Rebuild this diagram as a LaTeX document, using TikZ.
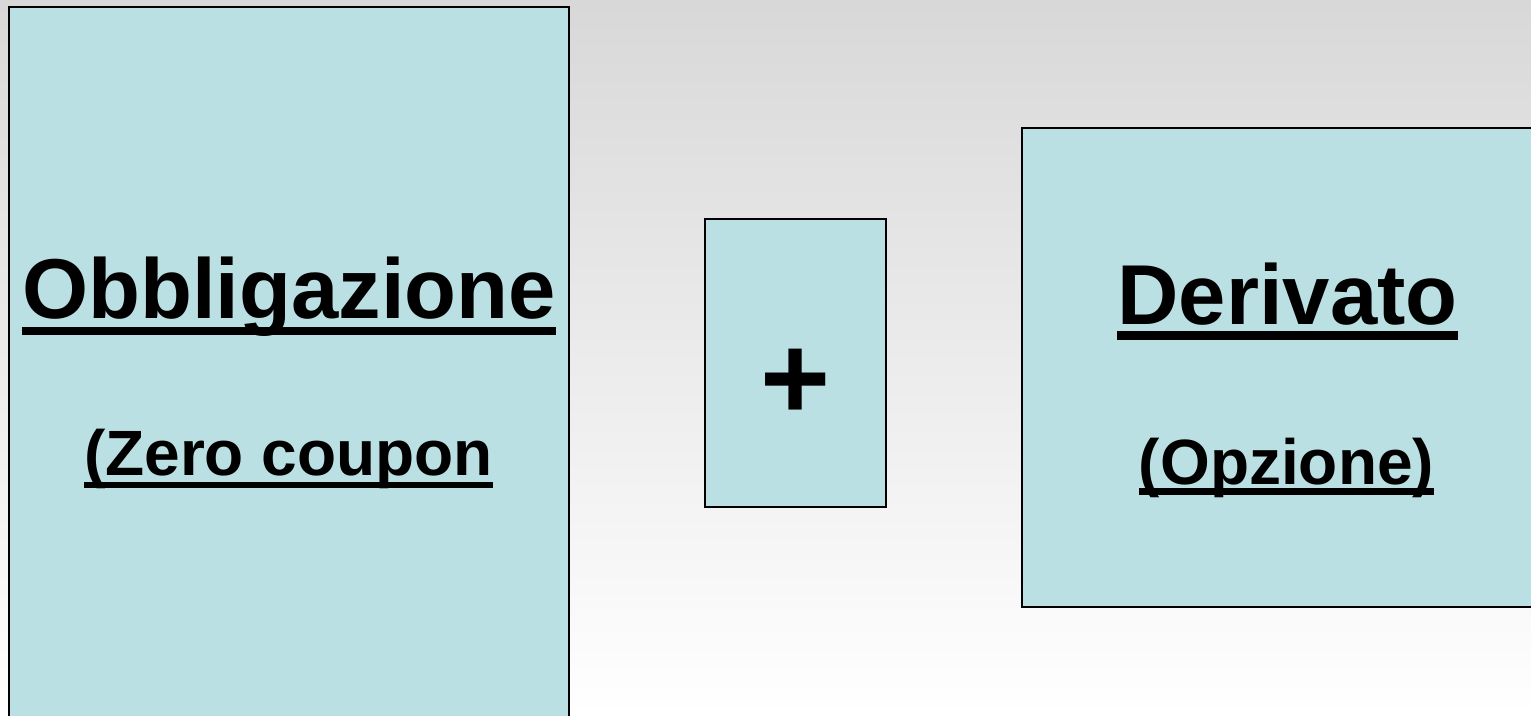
\documentclass[tikz,border=0pt]{standalone}
\usepackage{fontspec}
\setmainfont{Liberation Sans}
\definecolor{boxfill}{RGB}{187,224,227}
\definecolor{bgtop}{RGB}{216,216,216}
\newcommand{\myul}[3]{\setbox0=\hbox{#1}\rlap{\usebox0}\rule[#2]{\wd0}{#3}}
\begin{document}
\begin{tikzpicture}[x=1pt,y=-1pt,
  panel/.style={draw=black,line width=2pt,fill=boxfill},
  big/.style={inner sep=0pt,anchor=base,font=\fontsize{85}{85}\selectfont\bfseries},
  small/.style={inner sep=0pt,anchor=base,font=\fontsize{64}{64}\selectfont\bfseries}]
\useasboundingbox (0,0) rectangle (1531,715);
\clip (0,0) rectangle (1531,715);
\shade[top color=bgtop,bottom color=white] (0,0) rectangle (1531,715);
\draw[panel] (9,7) rectangle (569,730);
\draw[panel] (705,219) rectangle (886,507);
\draw[panel] (1022,128) rectangle (1545,607);
\node[big] (obb) at (289,318) {\myul{Obbligazione}{-17pt}{8pt}};
\node[small] (zc) at (288.5,475) {\myul{(Zero coupon}{-13pt}{6pt}};
\node[inner sep=0pt,font=\fontsize{120}{120}\selectfont\bfseries] (plus) at (796,384) {+};
\node[big] (der) at (1287.5,324) {\myul{Derivato}{-16pt}{9pt}};
\node[small] (opz) at (1286.5,484) {\myul{(Opzione)}{-11pt}{7pt}};
\end{tikzpicture}
\end{document}
